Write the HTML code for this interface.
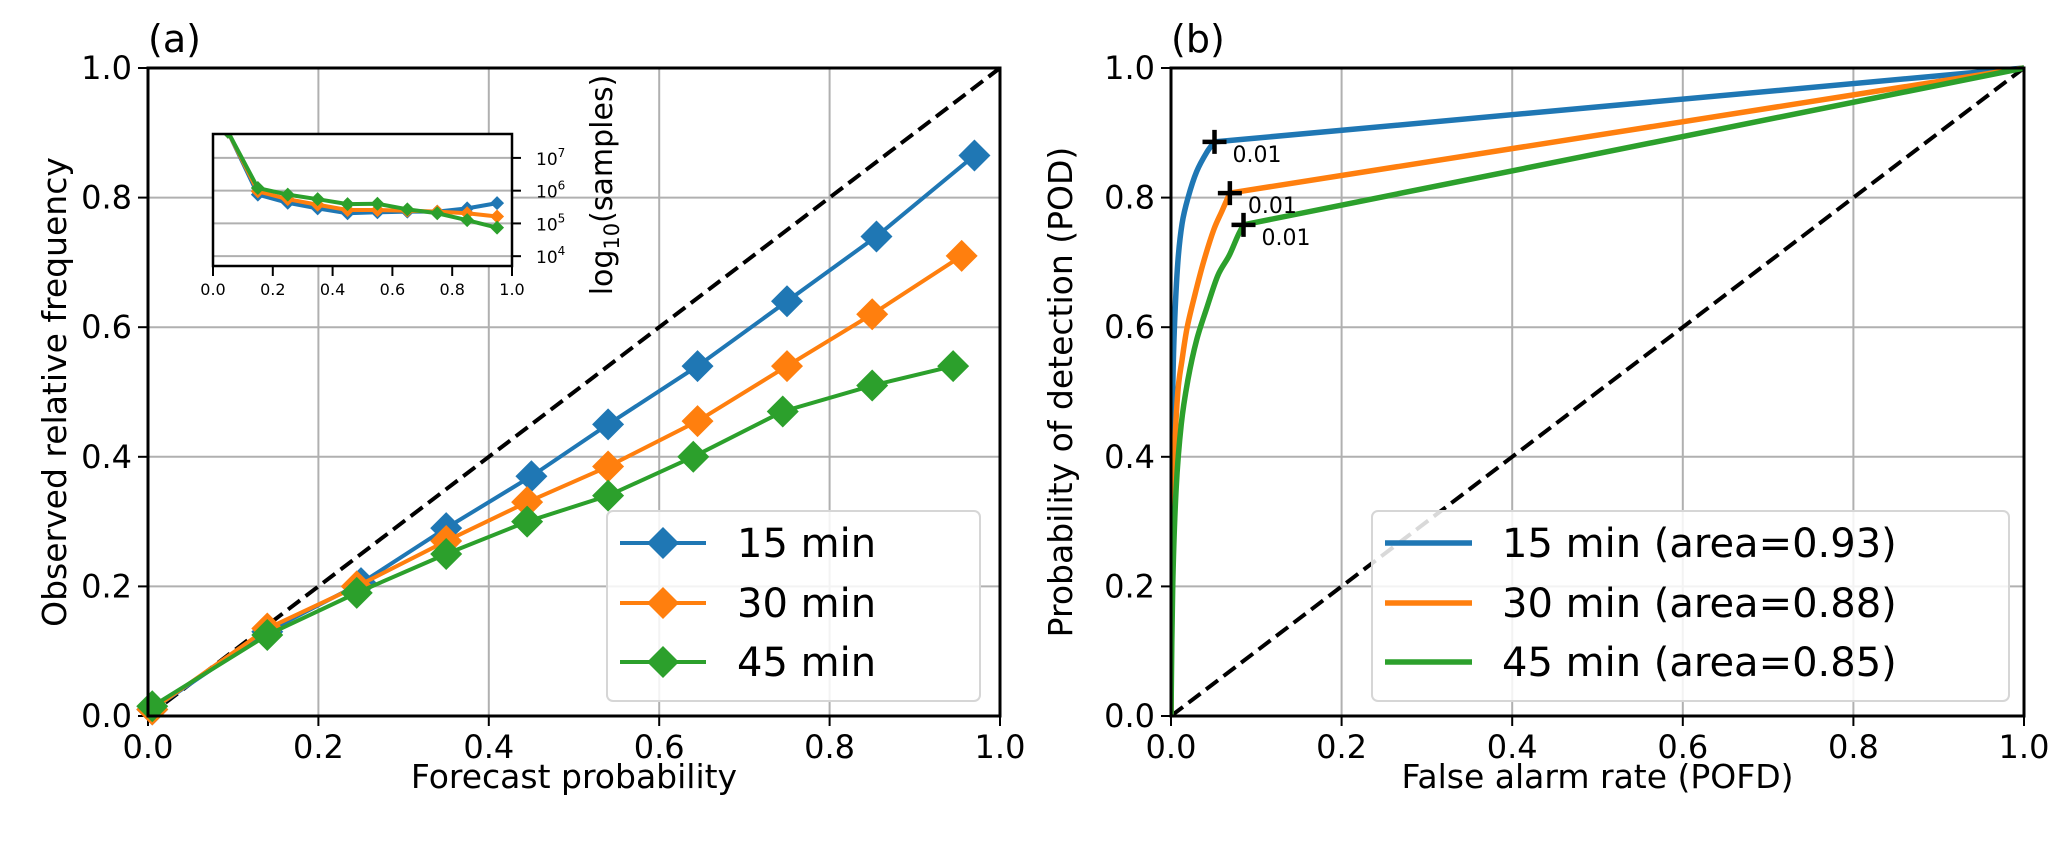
<!DOCTYPE html>
<html><head><meta charset="utf-8">
<style>
html,body{margin:0;padding:0;background:#fff;}
svg{display:block;font-family:"DejaVu Sans","Liberation Sans",sans-serif;}
</style></head>
<body>
<svg id="fig" width="2067" height="848" viewBox="0 0 2067 848">
<g id="pa"></g>
<g id="pb"></g>
</svg>
<script>
// ---- Panel (a) data: reliability diagram ----
const relX15 = [0.005,0.14,0.25,0.35,0.45,0.54,0.645,0.75,0.855,0.97];
const relY15 = [0.01,0.13,0.205,0.29,0.37,0.45,0.54,0.64,0.74,0.865];
const relX30 = [0.005,0.14,0.245,0.35,0.445,0.54,0.645,0.75,0.85,0.955];
const relY30 = [0.01,0.135,0.20,0.27,0.33,0.385,0.455,0.54,0.62,0.71];
const relX45 = [0.005,0.14,0.245,0.35,0.445,0.54,0.64,0.745,0.85,0.945];
const relY45 = [0.015,0.125,0.19,0.25,0.30,0.34,0.40,0.47,0.51,0.54];
// inset: log10(samples)
const insX = [0.05,0.15,0.25,0.35,0.45,0.55,0.65,0.75,0.85,0.95];
const ins15 = [7.8,5.88,5.63,5.46,5.31,5.34,5.36,5.36,5.46,5.62];
const ins30 = [7.8,5.98,5.74,5.57,5.41,5.41,5.39,5.36,5.31,5.21];
const ins45 = [7.8,6.08,5.88,5.74,5.59,5.6,5.43,5.31,5.1,4.87];
const insYTicks = [4,5,6,7];
const tickVals = [0,0.2,0.4,0.6,0.8,1.0];
const tickLabels = ["0.0","0.2","0.4","0.6","0.8","1.0"];
const seriesNames = ["15 min","30 min","45 min"];
// ---- Panel (b) data: ROC ----
const roc15F = [0,0.0005,0.002,0.004,0.008,0.013,0.02,0.03,0.042,0.051,1];
const roc15P = [0,0.3,0.5,0.6,0.7,0.76,0.8,0.84,0.87,0.886,1];
const roc30F = [0,0.001,0.004,0.008,0.013,0.019,0.028,0.038,0.05,0.06,0.069,1];
const roc30P = [0,0.25,0.4,0.5,0.55,0.6,0.65,0.7,0.75,0.78,0.807,1];
const roc45F = [0,0.002,0.006,0.012,0.02,0.03,0.042,0.055,0.068,0.078,0.085,1];
const roc45P = [0,0.2,0.35,0.45,0.52,0.58,0.63,0.68,0.71,0.74,0.758,1];
const thrF = [0.051,0.069,0.085];
const thrP = [0.886,0.807,0.758];
const thrLabel = ["0.01","0.01","0.01"];
const rocNames = ["15 min (area=0.93)","30 min (area=0.88)","45 min (area=0.85)"];

const COLORS = ["#1f77b4","#ff7f0e","#2ca02c"];
const NS = "http://www.w3.org/2000/svg";
function mk(parent, tag, attrs, text){
  const e = document.createElementNS(NS, tag);
  for (const k in attrs) e.setAttribute(k, attrs[k]);
  if (text !== undefined) e.textContent = text;
  parent.appendChild(e);
  return e;
}
const Y0 = 716, Y1 = 68;
function axisFns(x0, x1){
  return {sx: v => x0 + v*(x1-x0), sy: v => Y0 - v*(Y0-Y1)};
}
function diamond(cx, cy, r){
  return `M${cx},${cy-r} L${cx+r},${cy} L${cx},${cy+r} L${cx-r},${cy} Z`;
}
// Catmull-Rom smoothing through points (all but final straight segment)
function smoothPath(pts){
  let d = `M${pts[0][0]},${pts[0][1]}`;
  const n = pts.length - 1; // last point reached by straight line
  for (let i=0;i<n-1;i++){
    const p0 = pts[Math.max(i-1,0)], p1 = pts[i], p2 = pts[i+1], p3 = pts[Math.min(i+2,n-1)];
    const c1x = p1[0]+(p2[0]-p0[0])/6, c1y = p1[1]+(p2[1]-p0[1])/6;
    const c2x = p2[0]-(p3[0]-p1[0])/6, c2y = p2[1]-(p3[1]-p1[1])/6;
    d += ` C${c1x},${c1y} ${c2x},${c2y} ${p2[0]},${p2[1]}`;
  }
  d += ` L${pts[n][0]},${pts[n][1]}`;
  return d;
}
function drawFrame(g, x0, x1, xlabel, ylabel, ylabX, title){
  const {sx, sy} = axisFns(x0, x1);
  tickVals.forEach((v,i)=>{
    const gx = mk(g,'line',{x1:sx(v),x2:sx(v),y1:Y1,y2:Y0,stroke:'#b0b0b0','stroke-width':2});
    
    
    const gy = mk(g,'line',{x1:x0,x2:x1,y1:sy(v),y2:sy(v),stroke:'#b0b0b0','stroke-width':2});
    
    
    mk(g,'line',{x1:sx(v),x2:sx(v),y1:Y0,y2:Y0+10,stroke:'#000','stroke-width':2});
    mk(g,'line',{x1:x0-10,x2:x0,y1:sy(v),y2:sy(v),stroke:'#000','stroke-width':2});
    const tx = mk(g,'text',{x:sx(v),y:Y0+42,'font-size':32,'text-anchor':'middle'},tickLabels[i]);
    
    
    const ty = mk(g,'text',{x:x0-16,y:sy(v)+11,'font-size':32,'text-anchor':'end'},tickLabels[i]);
    
    
  });
  const xl = mk(g,'text',{x:(x0+x1)/2,y:788,'font-size':33,'text-anchor':'middle'},xlabel);
  
  
  const yl = mk(g,'text',{x:ylabX,y:392,'font-size':33,'text-anchor':'middle',transform:`rotate(-90 ${ylabX} 392)`},ylabel);
  
  
  const t = mk(g,'text',{x:x0,y:52,'font-size':38},title);
  
  
  const dg = mk(g,'line',{x1:sx(0),y1:sy(0),x2:sx(1),y2:sy(1),stroke:'#000','stroke-width':4,'stroke-dasharray':'15,7'});
  
  
  return {sx, sy};
}
function drawSpines(g, x0, x1){
  const r = mk(g,'rect',{x:x0,y:Y1,width:x1-x0,height:Y0-Y1,fill:'none',stroke:'#000','stroke-width':3});
  
  
}

// ---------- Panel (a) ----------
(function(){
  const g = document.getElementById('pa');
  const x0 = 148, x1 = 1000;
  const {sx, sy} = drawFrame(g, x0, x1, "Forecast probability", "Observed relative frequency", 66, "(a)");
  const xs = [relX15, relX30, relX45], ys = [relY15, relY30, relY45];
  xs.forEach((X,s)=>{
    const pts = X.map((v,i)=>`${sx(v)},${sy(ys[s][i])}`).join(' ');
    const pl = mk(g,'polyline',{points:pts,fill:'none',stroke:COLORS[s],'stroke-width':4});
    
    
    X.forEach((v,i)=>{
      const d = mk(g,'path',{d:diamond(sx(v),sy(ys[s][i]),16),fill:COLORS[s]});
      
      
    });
  });
  drawSpines(g, x0, x1);
  const lg = mk(g,'g',{});
  
  
  mk(lg,'rect',{x:607,y:511,width:373,height:190,rx:6,fill:'#fff','fill-opacity':0.85,stroke:'#d6d6d6','stroke-width':2});
  [543,603,662].forEach((yy,s)=>{
    const e = mk(lg,'g',{});
    
    
    mk(e,'line',{x1:620,x2:706,y1:yy,y2:yy,stroke:COLORS[s],'stroke-width':4});
    mk(e,'path',{d:diamond(663,yy,16),fill:COLORS[s]});
    mk(e,'text',{x:737,y:yy+14,'font-size':40},seriesNames[s]);
  });
  // inset
  const ig = mk(g,'g',{});
  
  
  const ix0 = 213, ix1 = 512, iy0 = 266, iy1 = 134;
  const isx = v => ix0 + v*(ix1-ix0);
  const isy = v => iy0 - (v-3.7)/(7.73-3.7)*(iy0-iy1);
  mk(ig,'rect',{x:ix0,y:iy1,width:ix1-ix0,height:iy0-iy1,fill:'#fff'});
  insYTicks.forEach(t=>{
    mk(ig,'line',{x1:ix0,x2:ix1,y1:isy(t),y2:isy(t),stroke:'#b0b0b0','stroke-width':2});
    mk(ig,'line',{x1:ix1,x2:ix1+9,y1:isy(t),y2:isy(t),stroke:'#000','stroke-width':2});
    const tl = mk(ig,'text',{x:ix1+24,y:isy(t)+7,'font-size':17});
    
    
    mk(tl,'tspan',{},'10');
    mk(tl,'tspan',{dy:-8,'font-size':12},String(t));
  });
  mk(ig,'clipPath',{id:'insclip'});
  mk(document.getElementById('insclip'),'rect',{x:ix0,y:iy1,width:ix1-ix0,height:iy0-iy1});
  const insData = [ins15, ins30, ins45];
  const dg = mk(ig,'g',{'clip-path':'url(#insclip)'});
  insData.forEach((Y,s)=>{
    const pts = insX.map((v,i)=>`${isx(v)},${isy(Y[i])}`).join(' ');
    const pl = mk(dg,'polyline',{points:pts,fill:'none',stroke:COLORS[s],'stroke-width':4});
    
    
    insX.forEach((v,i)=>{ mk(dg,'path',{d:diamond(isx(v),isy(Y[i]),7),fill:COLORS[s]}); });
  });
  tickVals.forEach((v,i)=>{
    mk(ig,'line',{x1:isx(v),x2:isx(v),y1:iy0,y2:iy0+10,stroke:'#000','stroke-width':2});
    const tl = mk(ig,'text',{x:isx(v),y:iy0+29,'font-size':16,'text-anchor':'middle'},tickLabels[i]);
    
    
  });
  mk(ig,'rect',{x:ix0,y:iy1,width:ix1-ix0,height:iy0-iy1,fill:'none',stroke:'#000','stroke-width':2.5});
  const il = mk(ig,'text',{x:612,y:185,'font-size':30,'text-anchor':'middle',transform:'rotate(-90 612 185)'});
  
  
  mk(il,'tspan',{},'log');
  mk(il,'tspan',{dy:7,'font-size':21},'10');
  mk(il,'tspan',{dy:-7},'(samples)');
})();

// ---------- Panel (b) ----------
(function(){
  const g = document.getElementById('pb');
  const x0 = 1171, x1 = 2024;
  const {sx, sy} = drawFrame(g, x0, x1, "False alarm rate (POFD)", "Probability of detection (POD)", 1072, "(b)");
  const F = [roc15F, roc30F, roc45F], P = [roc15P, roc30P, roc45P];
  const cg = mk(g,'g',{});
  mk(cg,'clipPath',{id:'rocclip'});
  mk(document.getElementById('rocclip'),'rect',{x:x0,y:Y1-3,width:x1-x0+3,height:Y0-Y1+3});
  cg.setAttribute('clip-path','url(#rocclip)');
  F.forEach((X,s)=>{
    const pts = X.map((v,i)=>[sx(v), sy(P[s][i])]);
    const pl = mk(cg,'path',{d:smoothPath(pts),fill:'none',stroke:COLORS[s],'stroke-width':5.5,'stroke-linejoin':'round'});
    
    
  });
  thrF.forEach((v,i)=>{
    const cx = sx(v), cy = sy(thrP[i]);
    const m = mk(g,'path',{d:`M${cx-12},${cy} H${cx+12} M${cx},${cy-12} V${cy+12}`,stroke:'#000','stroke-width':4.5});
    
    
    const t = mk(g,'text',{x:cx+18,y:cy+20,'font-size':22},thrLabel[i]);
    
    
  });
  drawSpines(g, x0, x1);
  const lg = mk(g,'g',{});
  
  
  mk(lg,'rect',{x:1372,y:511,width:637,height:190,rx:6,fill:'#fff','fill-opacity':0.85,stroke:'#d6d6d6','stroke-width':2});
  [543,603,662].forEach((yy,s)=>{
    const e = mk(lg,'g',{});
    
    
    mk(e,'line',{x1:1385,x2:1472,y1:yy,y2:yy,stroke:COLORS[s],'stroke-width':5.5});
    mk(e,'text',{x:1502,y:yy+14,'font-size':40},rocNames[s]);
  });
})();
</script>
</body></html>
